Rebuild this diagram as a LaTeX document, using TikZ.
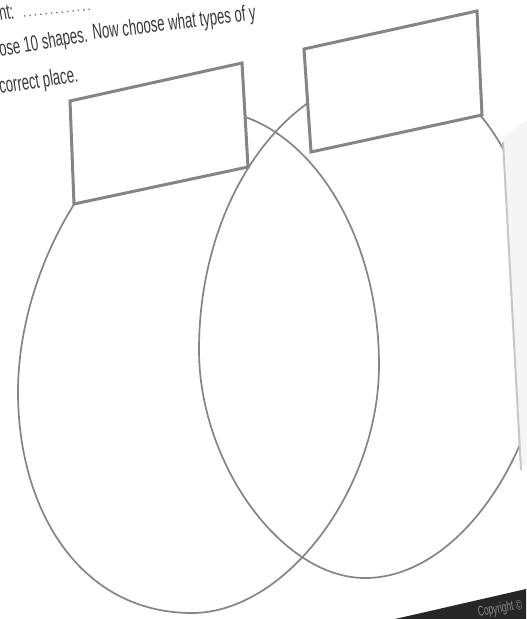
\documentclass[tikz,border=0pt]{standalone}
\usepackage{fontspec}
\newfontfamily\narrowfont[FakeStretch=0.6]{Liberation Sans}
\definecolor{linegray}{HTML}{858585}
\definecolor{textgray}{HTML}{3A3A3A}
\begin{document}
\begin{tikzpicture}[x=0.5pt,y=-0.5pt,
  ell/.style={draw=linegray, line width=0.85pt},
  lbox/.style={draw=linegray, line width=1.5pt, fill=white, line join=miter},
  txt/.style={font=\narrowfont\fontsize{11}{12}\selectfont, text=textgray, inner sep=0, anchor=base west}]
\useasboundingbox (0,0) rectangle (526,619);
\fill[white] (0,0) rectangle (526,619);

% left ellipse: top, right, bottom, left extremes
\coordinate (LT) at (205,110);
\coordinate (LR) at (379,365);
\coordinate (LB) at (192,613);
\coordinate (LL) at (18,392);
\draw[ell] (LT) .. controls (300,110) and (379,225) .. (LR)
  .. controls (379,490) and (285,613) .. (LB)
  .. controls (80,613) and (18,510) .. (LL)
  .. controls (18,260) and (110,110) .. (LT) -- cycle;

% right ellipse
\coordinate (RT) at (400,72);
\coordinate (RR) at (545,330);
\coordinate (RB) at (365,578);
\coordinate (RL) at (199,350);
\draw[ell] (RT) .. controls (289,72) and (199,197) .. (RL)
  .. controls (199,464) and (282,578) .. (RB)
  .. controls (464,578) and (545,441) .. (RR)
  .. controls (545,188) and (480,72) .. (RT) -- cycle;

% page edge shade on the right
\fill[black!4] (503,138) -- (521,466) -- (527,466) -- (527,120) -- cycle;
\draw[black!22, line width=1pt] (503,142) -- (521,470);

% label boxes
\filldraw[lbox] (70,101) -- (242,63) -- (248,167) -- (74,204) -- cycle;
\filldraw[lbox] (304,49) -- (477,11) -- (482,115) -- (311,152) -- cycle;

% heading text
\node[txt, rotate=10] (t1) at (0,21) {nt:};
\draw[dotted, textgray!70, line width=0.7pt] (24,16) -- (92,9);
\node[txt, rotate=10] (t2a) at (0,57) {ose 10 shapes.};
\node[txt, rotate=7] (t2b) at (93,40) {Now choose what types of y};
\node[txt, rotate=9] (t3) at (0,94) {correct place.};

% dark strip bottom right
\fill[black!85] (395,619) -- (526,589) -- (526,619) -- cycle;
\node[font=\narrowfont\fontsize{7}{8}\selectfont, text=black!45, rotate=10, anchor=base east, inner sep=0] (cp) at (523,609) {Copyright ©};
\end{tikzpicture}
\end{document}
